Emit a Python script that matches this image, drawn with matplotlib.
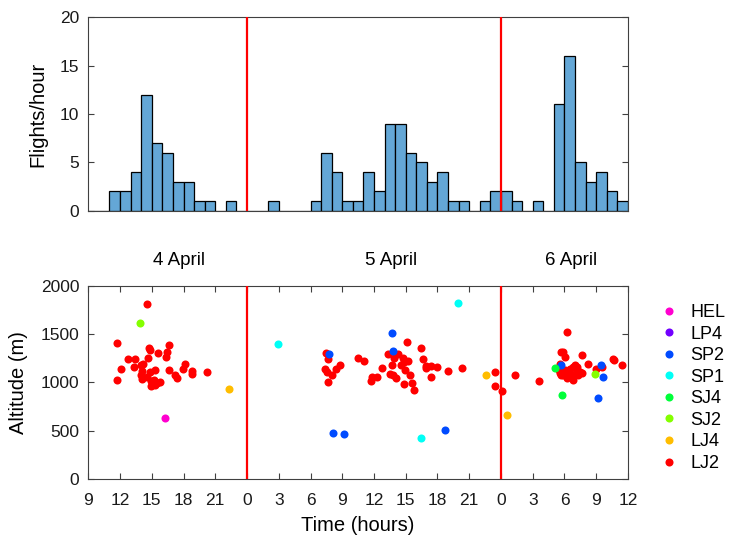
import numpy as np
import matplotlib.pyplot as plt
import matplotlib.transforms as mtransforms

plt.rcParams['font.family'] = ['Liberation Sans', 'DejaVu Sans']

# hourly flight counts, hours counted from midnight of 4 April (bins 9..59)
hour_bins = np.arange(9, 60)
flights = [0, 0, 2, 2, 4, 12, 7, 6, 3, 3, 1, 1, 0, 1, 0,
           0, 0, 1, 0, 0, 0, 1, 6, 4, 1, 1, 4, 2, 9, 9, 6, 5, 3, 4, 1, 1, 0, 1, 2,
           2, 1, 0, 1, 0, 11, 16, 5, 3, 4, 2, 1]

# flights by aircraft class: time (h since 4 April 00:00) and altitude (m)
lj2_t = [14.59, 11.68, 16.64, 14.78, 14.87, 15.63, 16.45, 16.38, 12.79, 13.45, 14.62, 13.96,
         14.21, 13.36, 12.06, 18.16, 17.94, 18.79, 18.76, 16.66, 14.05, 14.84, 15.35, 13.96,
         14.56, 17.24, 17.39, 14.08, 11.68, 14.90, 15.17, 15.74, 15.50, 14.90, 15.30, 20.20,
         31.42, 31.61, 32.78, 32.40, 31.36, 31.54, 32.00, 31.61, 34.48, 35.08, 35.71, 35.80,
         36.30, 36.75, 37.29, 38.30, 37.92, 38.70, 39.16, 40.42, 40.61, 39.22, 38.87, 38.56,
         37.67, 40.93, 41.41, 40.87, 41.97, 38.90, 39.38, 37.51, 37.83, 38.08, 38.81, 39.57,
         39.82, 41.37, 42.96, 44.32, 47.45, 47.48, 48.06, 49.36, 51.57,
         54.27, 53.65, 53.90, 54.06, 55.66, 56.20, 58.60, 58.73, 59.45, 57.58, 53.59, 53.50,
         53.66, 53.58, 54.05, 54.53, 54.84, 55.00, 55.16, 55.47, 55.63, 54.21, 54.84, 53.90,
         54.68, 55.31, 54.37, 53.74, 55.16, 56.95]
lj2_alt = [1810, 1410, 1390, 1359, 1335, 1307, 1317, 1266, 1245, 1245, 1255, 1183,
           1193, 1162, 1134, 1186, 1138, 1121, 1083, 1131, 1114, 1110, 1128, 1076,
           1052, 1076, 1041, 1031, 1028, 1014, 1024, 1003, 990, 962, 969, 1107,
           1307, 1238, 1183, 1138, 1141, 1110, 1079, 1003, 1248, 1221, 1014, 1059,
           1052, 1148, 1293, 1293, 1248, 1248, 1414, 1352, 1241, 1224, 1214, 1179,
           1179, 1169, 1172, 1145, 1159, 1128, 1076, 1086, 1076, 1041, 986, 995,
           924, 1055, 1117, 1152, 1110, 962, 914, 1072, 1014,
           1525, 1311, 1318, 1266, 1287, 1190, 1239, 1229, 1177, 1163, 1186, 1128,
           1076, 1094, 1128, 1135, 1163, 1180, 1128, 1111, 1094, 1042, 1025, 1077,
           1077, 1077, 1094, 1128, 1163, 1140]
lj4_t = [22.34, 46.56, 48.57]
lj4_alt = [928, 1072, 662]
sj2_t = [13.89, 56.92]
sj2_alt = [1610, 1088]
sj4_t = [53.10, 53.77]
sj4_alt = [1149, 870]
sp1_t = [26.94, 43.90, 40.46]
sp1_alt = [1397, 1824, 421]
sp2_t = [31.71, 32.17, 33.12, 37.73, 37.77, 42.70, 53.68, 57.45, 57.60, 57.20]
sp2_alt = [1293, 476, 466, 1507, 1328, 507, 1180, 1175, 1052, 838]
lp4_t = []
lp4_alt = []
hel_t = [16.29]
hel_alt = [631]

classes = ['HEL', 'LP4', 'SP2', 'SP1', 'SJ4', 'SJ2', 'LJ4', 'LJ2']
times = [hel_t, lp4_t, sp2_t, sp1_t, sj4_t, sj2_t, lj4_t, lj2_t]
alts = [hel_alt, lp4_alt, sp2_alt, sp1_alt, sj4_alt, sj2_alt, lj4_alt, lj2_alt]
colors = plt.cm.hsv(np.arange(8) / 8)[::-1]

day_labels = ['4 April', '5 April', '6 April']
day_label_x = [17.6, 37.6, 54.6]
midnights = [24, 48]
xticks = np.arange(9, 61, 3)

axcol = '#404040'
fs_tick = 12.5
fs_label = 14.5

fig = plt.figure(figsize=(7.31, 5.41), dpi=100)
ax1 = fig.add_axes([0.1208, 0.6105, 0.7382, 0.3575])
ax2 = fig.add_axes([0.1208, 0.1146, 0.7382, 0.3573])

# top: flights per hour
ax1.bar(hour_bins, flights, width=1, align='edge', color='#64a7d6',
        edgecolor='black', linewidth=0.9, zorder=2)
for m in midnights:
    ax1.axvline(m, color='red', lw=1.6, zorder=3)
ax1.set_xlim(9, 60)
ax1.set_ylim(0, 20)
ax1.set_yticks([0, 5, 10, 15, 20])
ax1.set_xticks([])
ax1.set_ylabel('Flights/hour', fontsize=fs_label, labelpad=9)

# bottom: altitude of each flight
handles = {}
for i in [7, 0, 1, 2, 3, 4, 5, 6]:
    h, = ax2.plot(times[i], alts[i], 'o', ls='none', color=colors[i],
                  markersize=5.8, markeredgewidth=0, label=classes[i], zorder=2)
    handles[i] = h
handles = [handles[i] for i in range(8)]
for m in midnights:
    ax2.axvline(m, color='red', lw=1.6, zorder=3)
ax2.set_xlim(9, 60)
ax2.set_ylim(0, 2000)
ax2.set_yticks([0, 500, 1000, 1500, 2000])
ax2.set_xticks(xticks)
ax2.set_xticklabels([str(t % 24) for t in xticks])
ax2.set_xlabel('Time (hours)', fontsize=fs_label, labelpad=6)
ax2.set_ylabel('Altitude (m)', fontsize=fs_label, labelpad=9)

trans = mtransforms.blended_transform_factory(ax2.transData, ax2.transAxes)
for x, s in zip(day_label_x, day_labels):
    ax2.text(x, 1.128, s, transform=trans, ha='center', va='center',
             fontsize=13.5, color='black')

for ax in (ax1, ax2):
    for sp in ax.spines.values():
        sp.set_color(axcol)
        sp.set_linewidth(0.8)
    ax.tick_params(direction='in', length=4, width=0.8, color=axcol,
                   labelsize=fs_tick, labelcolor='#1a1a1a',
                   top=True, right=True)
    ax.tick_params(axis='y', pad=6.5)
ax2.tick_params(axis='x', pad=10)
ax1.tick_params(top=False, bottom=False)

fig.legend(handles=handles, labels=classes, loc='upper left',
           bbox_to_anchor=(0.895, 0.451), frameon=False, fontsize=13,
           handlelength=0.8, handletextpad=0.8, labelspacing=0.25,
           borderaxespad=0)

fig.savefig('out.png', dpi=100)
